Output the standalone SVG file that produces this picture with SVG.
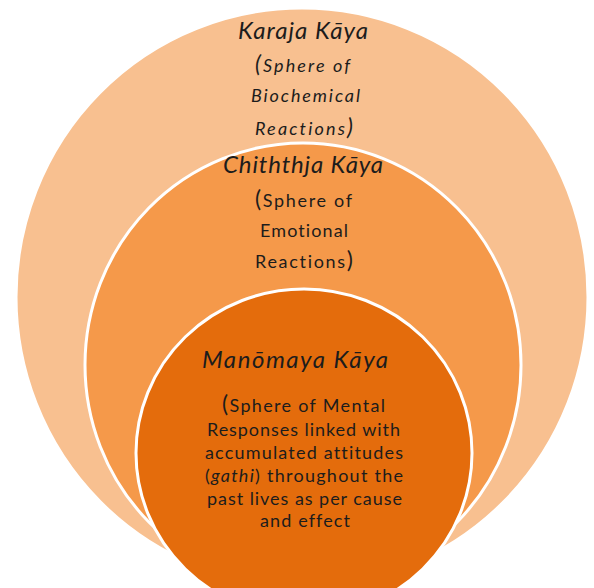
<svg xmlns="http://www.w3.org/2000/svg" width="594" height="588" viewBox="0 0 594 588">
  <style>
    .ring { stroke: #ffffff; stroke-width: 3; }
    .t { font-family: Lato, "Open Sans", "Liberation Sans", sans-serif; fill: #1c1c1c; font-variant-ligatures: none; }
    .title { font-size: 24px; font-style: italic; }
    .body { font-size: 18px; }
    .it { font-style: italic; }
    .par { font-size: 23px; }
  </style>
  <rect width="594" height="588" fill="#ffffff"/>
  <g id="outer">
    <ellipse class="ring" cx="302" cy="297" rx="286" ry="289" fill="#F8C090"/>
    <text class="t title" x="238" y="39" textLength="130">Karaja Kāya</text>
    <text class="t body it" x="255" y="72" textLength="95"><tspan class="par">(</tspan>Sphere of</text>
    <text class="t body it" x="251" y="102" textLength="109">Biochemical</text>
    <text class="t body it" x="255" y="135" textLength="98">Reactions<tspan class="par">)</tspan></text>
  </g>
  <g id="middle">
    <ellipse class="ring" cx="303" cy="365" rx="218" ry="222" fill="#F5994A"/>
    <text class="t title" x="223" y="173" textLength="160">Chiththja Kāya</text>
    <text class="t body" x="255" y="207" textLength="97"><tspan class="par">(</tspan>Sphere of</text>
    <text class="t body" x="260" y="237" textLength="88">Emotional</text>
    <text class="t body" x="255" y="268" textLength="98">Reactions<tspan class="par">)</tspan></text>
  </g>
  <g id="inner">
    <ellipse class="ring" cx="304" cy="453" rx="168" ry="164" fill="#E46C0C"/>
    <text class="t title" x="202" y="368" textLength="186">Manōmaya Kāya</text>
    <text class="t body" x="222" y="412" textLength="163"><tspan class="par">(</tspan>Sphere of Mental</text>
    <text class="t body" x="207" y="436" textLength="193">Responses linked with</text>
    <text class="t body" x="205" y="459" textLength="198">accumulated attitudes</text>
    <text class="t body" x="205" y="482" textLength="198">(<tspan class="it">gathi</tspan>) throughout the</text>
    <text class="t body" x="207" y="505" textLength="195">past lives as per cause</text>
    <text class="t body" x="260" y="527" textLength="90">and effect</text>
  </g>
</svg>
